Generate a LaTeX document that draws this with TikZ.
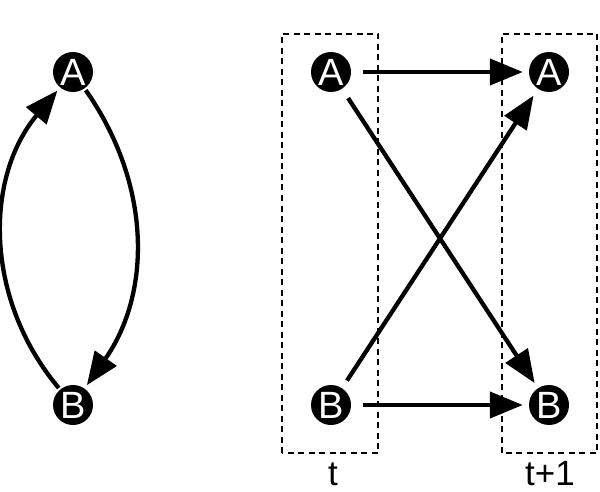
\documentclass[tikz,border=0pt]{standalone}
\usepackage{fontspec}
\setmainfont{Liberation Sans}
\usetikzlibrary{arrows.meta}
\begin{document}
\begin{tikzpicture}[x=1pt,y=1pt,
  state/.style={circle,fill=black,minimum size=40pt,inner sep=0pt,text=white,font=\fontsize{38}{38}\selectfont},
  arr/.style={line width=4.3pt,-{Triangle[length=33pt,width=26pt]}},
  slice/.style={draw,line width=1.2pt,dash pattern=on 6pt off 4.5pt},
  lbl/.style={anchor=base,inner sep=0pt,font=\fontsize{35}{35}\selectfont}]
\useasboundingbox (0,0) rectangle (600,491);
% slices
\draw[slice] (282,38) rectangle (378,457);
\draw[slice] (502,38) rectangle (597,457);
% left cyclic graph
\node[state] (LA) at (73,419) {A};
\node[state] (LB) at (73,86) {B};
\draw[arr,shorten <=2pt,shorten >=4pt] (LB) to[out=130,in=-130,looseness=1.0] (LA);
\draw[arr,shorten <=2pt,shorten >=4pt] (LA) to[out=-55,in=55,looseness=1.0] (LB);
% unrolled graph
\node[state] (A1) at (331,419) {A};
\node[state] (B1) at (331,86) {B};
\node[state] (A2) at (549,419) {A};
\node[state] (B2) at (549,86) {B};
\draw[arr,shorten <=12pt,shorten >=6pt] (A1) -- (A2);
\draw[arr,shorten <=12pt,shorten >=6pt] (B1) -- (B2);
\draw[arr,shorten <=11pt,shorten >=6pt] (A1) -- (B2);
\draw[arr,shorten <=9pt,shorten >=8pt] (B1) -- (A2);
% labels
\node[lbl] (t1) at (333,6) {t};
\node[lbl] (t2) at (550,6) {t+1};
\end{tikzpicture}
\end{document}
